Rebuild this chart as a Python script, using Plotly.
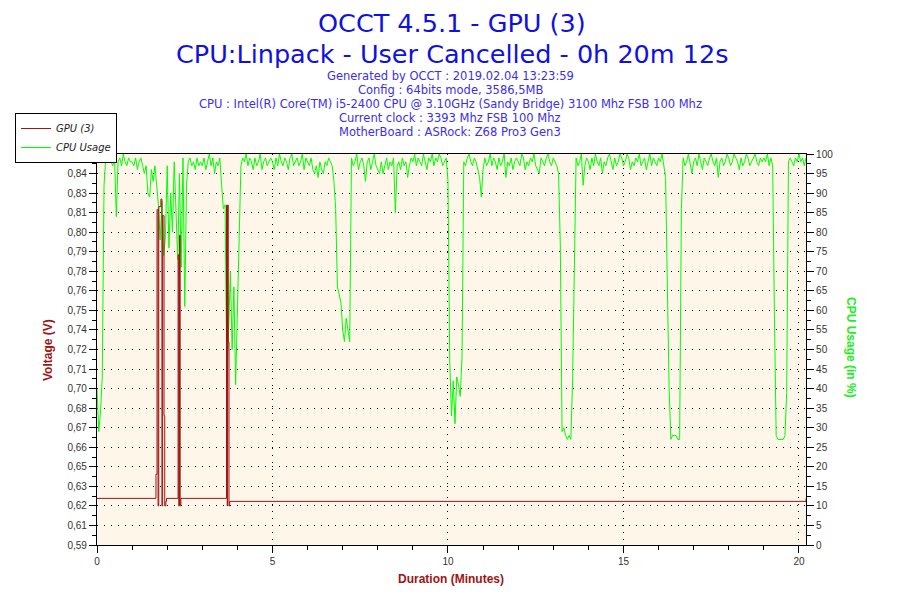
import numpy as np
import plotly.graph_objects as go

# ---- data ----
# CPU usage (%), one reading every 0.05 min, one row per minute
sample_step = 0.05
cpu_rows = [
    [40, 29, 34, 43, 92, 99, 98, 100, 98, 97, 99, 84, 98, 99, 97, 100, 98, 97, 99, 98],
    [98, 97, 99, 96, 98, 99, 97, 95, 97, 90, 89, 96, 93, 97, 92, 87, 78, 88, 74, 79],
    [97, 76, 90, 80, 98, 84, 73, 95, 71, 99, 61, 92, 98, 99, 97, 98, 96, 99, 97, 98],
    [97, 99, 96, 98, 100, 97, 99, 95, 98, 97, 99, 92, 86, 87, 42, 55, 70, 50, 66, 41],
    [58, 74, 97, 99, 98, 100, 97, 99, 98, 96, 99, 97, 98, 100, 96, 98, 99, 97, 98, 99],
    [98, 96, 99, 97, 100, 98, 97, 99, 98, 96, 99, 100, 97, 98, 99, 97, 98, 100, 96, 99],
    [98, 97, 99, 96, 95, 97, 94, 98, 96, 95, 98, 97, 99, 98, 97, 93, 86, 66, 64, 62],
    [55, 52, 58, 55, 52, 99, 97, 98, 100, 96, 98, 99, 97, 93, 98, 99, 96, 98, 100, 97],
    [96, 95, 98, 95, 97, 99, 96, 98, 97, 99, 85, 97, 98, 96, 99, 97, 98, 94, 97, 99],
    [98, 100, 97, 99, 98, 97, 100, 98, 96, 99, 98, 100, 97, 99, 98, 100, 99, 97, 98, 99],
    [93, 47, 33, 42, 31, 43, 41, 38, 48, 98, 97, 99, 100, 98, 97, 99, 98, 96, 94, 89],
    [96, 99, 97, 98, 100, 97, 99, 98, 96, 99, 97, 98, 100, 94, 98, 97, 99, 96, 98, 99],
    [98, 97, 100, 99, 96, 98, 97, 99, 98, 100, 97, 96, 95, 99, 98, 97, 99, 100, 98, 97],
    [99, 98, 97, 95, 77, 29, 30, 28, 27, 28, 27, 42, 78, 99, 97, 98, 100, 92, 97, 99],
    [98, 96, 99, 97, 100, 98, 97, 99, 95, 98, 97, 99, 100, 98, 96, 99, 97, 98, 100, 99],
    [97, 98, 100, 99, 96, 98, 97, 99, 98, 100, 97, 98, 99, 96, 98, 100, 97, 99, 98, 97],
    [99, 98, 100, 97, 94, 66, 40, 27, 28, 28, 28, 27, 27, 86, 99, 97, 98, 100, 97, 95],
    [98, 99, 97, 100, 98, 96, 99, 98, 97, 99, 100, 98, 97, 99, 94, 98, 99, 97, 98, 100],
    [99, 97, 98, 100, 99, 98, 96, 99, 97, 98, 100, 99, 97, 98, 99, 100, 98, 97, 99, 98],
    [99, 98, 100, 97, 99, 97, 59, 28, 27, 27, 27, 27, 28, 39, 98, 99, 98, 97, 99, 98],
    [100, 98, 99, 97, 99],
]
cpu_usage = [v for row in cpu_rows for v in row]
cpu_time = [round(i * sample_step, 2) for i in range(len(cpu_usage))]

# GPU (3) voltage (V), value holds until the next time stamp
gpu_time = [0.00, 1.68, 1.71, 1.74, 1.76, 1.82, 1.85, 1.87, 1.91, 1.93, 1.96, 1.98,
            2.31, 2.33, 2.35, 2.37, 2.39, 3.69, 3.71, 3.72, 3.74, 3.76, 3.78, 20.20]
gpu_volt = [0.629, 0.645, 0.821, 0.624, 0.823, 0.828, 0.624, 0.817, 0.684, 0.624, 0.627, 0.629,
            0.791, 0.624, 0.804, 0.624, 0.629, 0.824, 0.624, 0.824, 0.733, 0.624, 0.627, 0.629]

volt_range = [0.598, 0.858]
volt_labels = ['0,59', '0,61', '0,62', '0,63', '0,65', '0,66', '0,67', '0,68', '0,70', '0,71', '0,72',
               '0,74', '0,75', '0,76', '0,78', '0,79', '0,80', '0,81', '0,83', '0,84', '0,85']
duration_end = 20.2

header_big = ['OCCT 4.5.1 - GPU (3)', 'CPU:Linpack - User Cancelled - 0h 20m 12s']
header_small = ['Generated by OCCT : 2019.02.04 13:23:59',
                'Config : 64bits mode, 3586,5MB',
                'CPU : Intel(R) Core(TM) i5-2400 CPU @ 3.10GHz (Sandy Bridge) 3100 Mhz FSB 100 Mhz',
                'Current clock : 3393 Mhz FSB 100 Mhz',
                'MotherBoard : ASRock: Z68 Pro3 Gen3']

# ---- figure ----
# page body has an 8px margin, so screen pixel = figure pixel + 8
OFF = 8
W, H = 900, 600
pw, ph = 709, 391
L, T = 97 - OFF, 154 - OFF
R, B = W - L - pw, H - T - ph
def px_x(px): return (px - OFF - L) / pw
def px_y(py): return (T + ph - (py - OFF)) / ph

RED = '#A01414'
GREEN = '#00FF00'
tickfont = dict(family='Liberation Sans, Arial', size=10, color='#333333')

volt_ticks = np.linspace(volt_range[0], volt_range[1], len(volt_labels))
volt_minor = (volt_ticks[:-1] + volt_ticks[1:]) / 2

fig = go.Figure()
fig.add_trace(go.Scatter(x=cpu_time, y=cpu_usage, name='CPU Usage', mode='lines',
                         line=dict(color=GREEN, width=1), yaxis='y'))
fig.add_trace(go.Scatter(x=gpu_time, y=gpu_volt, name='GPU (3)', mode='lines',
                         line=dict(color=RED, width=1, shape='hv'), yaxis='y2'))

dots = '1px,6px'
fig.update_layout(
    width=W, height=H,
    margin=dict(l=L, r=R, t=T, b=B, autoexpand=False),
    paper_bgcolor='white', plot_bgcolor='#FDF6E9',
    showlegend=True,
    legend=dict(x=px_x(15), y=px_y(113), xanchor='left', yanchor='top',
                bgcolor='white', bordercolor='black', borderwidth=1,
                traceorder='reversed', tracegroupgap=0, itemwidth=30,
                font=dict(family='DejaVu Sans, Verdana', size=10, color='#222222', style='italic')),
    xaxis=dict(range=[0, duration_end], tickvals=[0, 5, 10, 15, 20], ticks='outside', ticklen=7,
               tickcolor='black', showline=True, linecolor='black', linewidth=1.2, mirror=True,
               showgrid=True, gridcolor='black', griddash=dots, gridwidth=1, zeroline=False,
               tickfont=tickfont,
               minor=dict(dtick=1, ticks='outside', ticklen=4, tickcolor='black', showgrid=False)),
    yaxis=dict(range=[0, 100], dtick=5, side='right', ticks='outside', ticklen=7, tickcolor='black',
               showline=True, linecolor='black', linewidth=1.2, zeroline=False,
               showgrid=True, gridcolor='black', griddash=dots, gridwidth=1, tickfont=tickfont,
               minor=dict(dtick=2.5, ticks='outside', ticklen=4, tickcolor='black', showgrid=False)),
    yaxis2=dict(range=volt_range, overlaying='y', side='left', tickmode='array',
                tickvals=volt_ticks, ticktext=volt_labels, ticks='outside', ticklen=7,
                tickcolor='black', showline=True, linecolor='black', linewidth=1.2,
                showgrid=False, zeroline=False, tickfont=tickfont,
                minor=dict(tickvals=volt_minor, ticks='outside', ticklen=4, tickcolor='black',
                           showgrid=False)),
)

def note(text, x, y, size, color, family='DejaVu Sans, Verdana', angle=0, weight='normal', **kw):
    return dict(text=text, x=px_x(x), y=px_y(y), xref='paper', yref='paper',
                showarrow=False, xanchor='center', yanchor='middle', textangle=angle,
                font=dict(family=family, size=size, color=color, weight=weight), **kw)

anns = []
for text, py in zip(header_big, [23, 53]):
    anns.append(note(text, 452, py, 25.5, '#1010E0', height=29))
for i, text in enumerate(header_small):
    anns.append(note(text, 450, 76 + i * 13.9, 11.5, '#3A2EF0'))
arial = 'Liberation Sans, Arial'
anns.append(note('Voltage (V)', 48, 350, 12, RED, arial, -90, 'bold'))
anns.append(note('CPU Usage (in %)', 851, 348, 12, '#22EE22', arial, 90, 'bold'))
anns.append(note('Duration (Minutes)', 451, 579, 12, RED, arial, 0, 'bold'))
fig.update_layout(annotations=anns)

fig.write_html("out.html")
